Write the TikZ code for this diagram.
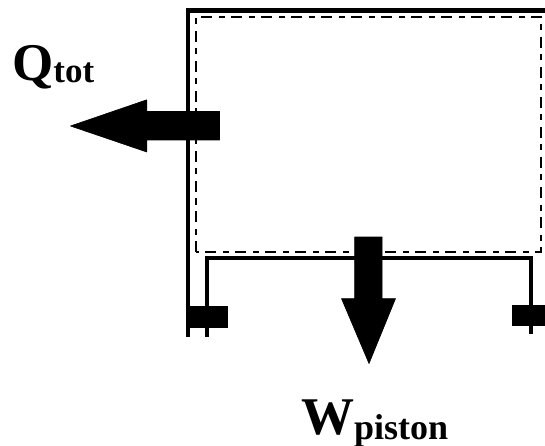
\documentclass[tikz,border=0pt]{standalone}
\usepackage{fontspec}
\setmainfont{Liberation Serif}
\tikzset{
  wall/.style={line width=4.4pt,line join=miter,line cap=butt},
  pistonline/.style={line width=4pt,line join=miter,line cap=butt},
  boundary/.style={line width=2.6pt,dash pattern=on 11pt off 6.5pt on 6pt off 6.5pt},
  solidshape/.style={fill=black,draw=black,line width=0.6pt,line join=round},
  bigtext/.style={inner sep=0pt,anchor=base west,font=\bfseries\fontsize{53}{53}\selectfont},
}
\begin{document}
\begin{tikzpicture}[x=1pt,y=-1pt]
\useasboundingbox (0,0) rectangle (545,446);
% cylinder wall
\draw[wall] (545,10.5) -- (187.8,10.5) -- (187.8,336.7);
% control volume boundary
\draw[boundary] (196,252) -- (196,17) -- (541,17) -- (541,252) -- cycle;
% piston
\draw[pistonline] (206.7,336.7) -- (206.7,258.3) -- (530.7,258.3) -- (530.7,333.5);
% piston rings
\fill (187,305.7) rectangle (228,327.7);
\fill (511.7,304.5) rectangle (545,326.2);
% heat arrow
\draw[solidshape] (219.5,111.5) -- (146.8,111.5) -- (146.8,99.8) -- (70.5,126) -- (146.8,152) -- (146.8,140) -- (219.5,140) -- cycle;
% work arrow
\draw[solidshape] (354.6,237) -- (382,237) -- (382,298.6) -- (395.5,298.6) -- (369,363.5) -- (341.5,298.6) -- (354.6,298.6) -- cycle;
% labels
\node[bigtext] (qlabel) at (12,81) {Q\raisebox{-2pt}{\fontsize{35}{35}\selectfont tot}};
\node[bigtext] (wlabel) at (301,434) {W\raisebox{-5pt}{\fontsize{36}{36}\selectfont piston}};
\end{tikzpicture}
\end{document}
